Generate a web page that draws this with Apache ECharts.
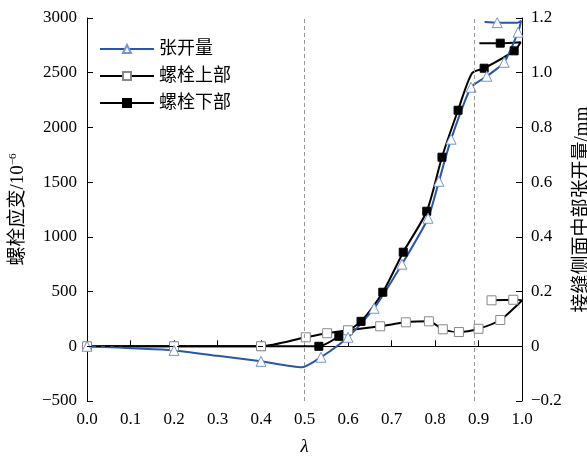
<!DOCTYPE html>
<html>
<head>
<meta charset="utf-8">
<script src="https://cdn.jsdelivr.net/npm/echarts@6/dist/echarts.min.js"></script>
<style>
html, body { margin: 0; padding: 0; background: #fff; }
#chart { width: 587px; height: 456px; }
</style>
</head>
<body>
<div id="chart"></div>
<script>
// λ 值与三条曲线（1 = 测点, 0 = 曲线中间点）
const openLam = [0, 0.2, 0.3, 0.4, 0.494, 0.538, 0.6, 0.66, 0.724, 0.784, 0.809, 0.837, 0.883, 0.919, 0.959, 0.991, 0.998, 0.99, 0.943, 0.914]
const openVal = [0, -0.015, -0.035, -0.055, -0.077, -0.04, 0.033, 0.139, 0.30, 0.468, 0.603, 0.757, 0.947, 0.987, 1.038, 1.148, 1.19, 1.183, 1.183, 1.185]
const openPt  = [1, 1, 0, 1, 0, 1, 1, 1, 1, 1, 1, 1, 1, 1, 1, 1, 0, 0, 1, 0]

const upLam = [0, 0.2, 0.4, 0.503, 0.552, 0.6, 0.674, 0.733, 0.786, 0.818, 0.855, 0.9, 0.95, 0.99, 1.0, 0.98, 0.93]
const upVal = [0, 0, 0, 82, 119, 146, 183, 219, 228, 155, 130, 160, 240, 380, 420, 425, 420]
const upPt  = [1, 1, 1, 1, 1, 1, 1, 1, 1, 1, 1, 1, 1, 0, 0, 1, 1]

const lowLam = [0, 0.2, 0.4, 0.533, 0.579, 0.63, 0.68, 0.727, 0.781, 0.816, 0.853, 0.885, 0.913, 0.982, 0.997, 0.95, 0.902]
const lowVal = [0, 0, 0, 0, 91, 228, 494, 860, 1234, 1728, 2157, 2495, 2541, 2700, 2779, 2770, 2770]
const lowPt  = [1, 1, 1, 1, 1, 1, 1, 1, 1, 1, 1, 0, 1, 1, 0, 1, 0]

const guideLam = [0.5, 0.89]

function pts(lam, val, flag) {
  return lam.map((x, i) => flag[i] ? [x, val[i]] : { value: [x, val[i]], symbol: 'none' })
}

const serif = '"Liberation Serif", "Noto Sans CJK SC", serif'
const minus = s => String(s).replace('-', '\u2212')

let chart = echarts.init(document.getElementById('chart'))
let option = {
  animation: false,
  textStyle: { fontFamily: serif },
  grid: { left: 87, right: 65, top: 18, bottom: 55, outerBoundsMode: 'none', containLabel: false },
  legend: {
    orient: 'vertical',
    left: 94,
    top: 35,
    itemWidth: 54,
    itemHeight: 10,
    itemGap: 9,
    data: ['张开量', '螺栓上部', '螺栓下部'],
    textStyle: { fontFamily: serif, fontSize: 18, color: '#000' }
  },
  xAxis: {
    type: 'value',
    min: 0, max: 1, interval: 0.1,
    name: 'λ',
    nameLocation: 'middle',
    nameGap: 36,
    nameTextStyle: { fontFamily: serif, fontSize: 19, fontStyle: 'italic', color: '#000' },
    axisLine: { lineStyle: { color: '#000', width: 1 } },
    axisTick: { inside: true, length: 6, lineStyle: { color: '#000' } },
    axisLabel: { fontSize: 17, color: '#000', margin: 10, formatter: v => v.toFixed(1) },
    splitLine: { show: false }
  },
  yAxis: [
    {
      type: 'value',
      min: -500, max: 3000, interval: 500,
      name: '螺栓应变/10{s|\u22126}',
      nameLocation: 'middle',
      nameGap: 58,
      nameRotate: 90,
      nameTextStyle: {
        fontFamily: serif, fontSize: 19, color: '#000',
        rich: { s: { fontFamily: serif, fontSize: 11, verticalAlign: 'top', padding: [0, 0, 10, 0] } }
      },
      axisLine: { show: true, lineStyle: { color: '#000' } },
      axisTick: { show: true, inside: true, length: 6, lineStyle: { color: '#000' } },
      axisLabel: { fontSize: 17, color: '#000', margin: 10, formatter: v => minus(v) },
      splitLine: { show: false }
    },
    {
      type: 'value',
      min: -0.2, max: 1.2, interval: 0.2,
      position: 'right',
      name: '接缝侧面中部张开量/mm',
      nameLocation: 'middle',
      nameGap: 41,
      nameRotate: 90,
      nameTextStyle: { fontFamily: serif, fontSize: 19, color: '#000' },
      axisLine: { show: true, lineStyle: { color: '#000' } },
      axisTick: { show: true, inside: true, length: 6, lineStyle: { color: '#000' } },
      axisLabel: { fontSize: 17, color: '#000', margin: 9,
        formatter: v => Math.abs(v) < 1e-9 ? '0' : minus(v.toFixed(1)) },
      splitLine: { show: false }
    }
  ],
  series: [
    {
      name: '螺栓下部',
      type: 'line',
      yAxisIndex: 0,
      smooth: 0.25,
      symbol: 'rect',
      symbolSize: 8,
      lineStyle: { color: '#000', width: 2 },
      itemStyle: { color: '#000', borderColor: '#000', borderWidth: 1 },
      data: pts(lowLam, lowVal, lowPt),
      markLine: {
        silent: true,
        symbol: 'none',
        label: { show: false },
        data: [
          ...guideLam.map(x => ({ xAxis: x, lineStyle: { color: '#999', type: [4, 3], width: 1 } })),
          { yAxis: 0, lineStyle: { color: '#000', type: [5, 4], width: 1 } }
        ]
      }
    },
    {
      name: '螺栓上部',
      type: 'line',
      yAxisIndex: 0,
      smooth: 0.25,
      symbol: 'rect',
      symbolSize: 9,
      lineStyle: { color: '#000', width: 2 },
      itemStyle: { color: '#fff', borderColor: '#888', borderWidth: 1 },
      data: pts(upLam, upVal, upPt)
    },
    {
      name: '张开量',
      type: 'line',
      yAxisIndex: 1,
      smooth: 0.2,
      symbol: 'triangle',
      symbolSize: 10,
      lineStyle: { color: '#2757a6', width: 2 },
      itemStyle: { color: '#fff', borderColor: '#7396d0', borderWidth: 1 },
      data: pts(openLam, openVal, openPt)
    }
  ]
}
chart.setOption(option)
</script>
</body>
</html>
